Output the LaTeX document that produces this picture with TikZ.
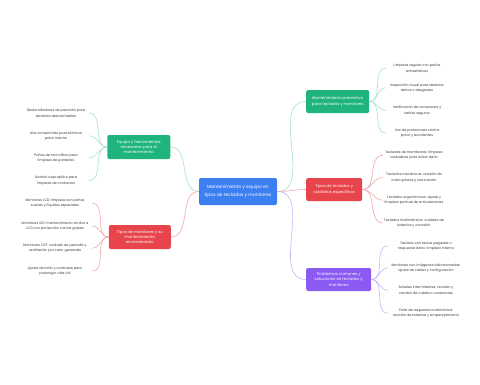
\documentclass[tikz,border=0pt]{standalone}
\usepackage{fontspec}
\setmainfont{Poppins}
\usetikzlibrary{positioning}
\definecolor{rootblue}{HTML}{3B7FF2}
\definecolor{mapgreen}{HTML}{1FB47E}
\definecolor{mapred}{HTML}{E8444B}
\definecolor{mappurple}{HTML}{8A5AF3}
\definecolor{linkgreen}{HTML}{A6E2CC}
\definecolor{linkred}{HTML}{F4A7AB}
\definecolor{linkpurple}{HTML}{C6B4F7}
\definecolor{leafink}{HTML}{3A3A3A}

\begin{document}
\begin{tikzpicture}[x=1pt, y=-1pt,
    topic/.style={rounded corners=2pt, text=white, align=center,
                  inner sep=0pt, minimum height=23pt,
                  font=\fontsize{3.9}{5.4}\selectfont},
    leaf/.style={text=leafink, align=center, inner sep=0pt,
                 font=\fontsize{3.4}{5.3}\selectfont},
    link/.style={line width=0.6pt}]
  \fill[white] (0,0) rectangle (480,384);
  \useasboundingbox (0,0) rectangle (480,384);
  % centre
  \node[topic, fill=rootblue, minimum width=78pt, minimum height=27pt,
        font=\fontsize{4.5}{7.5}\selectfont]
    (root) at (238,191.5) {Mantenimiento y equipo en\\tipos de teclados y monitores};
  % right topics
  \node[topic, fill=mapgreen, minimum width=63pt, anchor=west]
    (prev) at (306,101.5) {Mantenimiento preventivo\\para teclados y monitores};
  \node[topic, fill=mapred, minimum width=56pt, anchor=west]
    (kbd) at (306,189.5) {Tipos de teclados y\\cuidados específicos};
  \node[topic, fill=mappurple, minimum width=65pt, anchor=west]
    (prob) at (306,279.5) {Problemas comunes y\\soluciones en teclados y\\monitores};
  % left topics
  \node[topic, fill=mapgreen, minimum width=63pt, minimum height=24pt, anchor=east]
    (tools) at (170.5,147) {Equipo y herramientas\\necesarias para el\\mantenimiento};
  \node[topic, fill=mapred, minimum width=62pt, minimum height=24pt, anchor=east]
    (mon) at (171,237) {Tipos de monitores y su\\mantenimiento\\recomendado};

  % leaves, preventive
  \node[leaf, minimum width=62pt] (prev1) at (417,68.3) {Limpieza regular con paños\\antiestáticos};
  \node[leaf, minimum width=62pt] (prev2) at (417,87.8) {Inspección visual para detectar\\daños o desgastes};
  \node[leaf, minimum width=62pt] (prev3) at (417,110.5) {Verificación de conexiones y\\cables seguros};
  \node[leaf, minimum width=62pt] (prev4) at (417,133) {Uso de protectores contra\\polvo y accidentes};
  % leaves, keyboards
  \node[leaf, minimum width=62pt] (kbd1) at (414,155.3) {Teclados de membrana: limpieza\\cuidadosa para evitar daño};
  \node[leaf, minimum width=62pt] (kbd2) at (414,177.5) {Teclados mecánicos: revisión de\\interruptores y lubricación};
  \node[leaf, minimum width=62pt] (kbd3) at (414,200.2) {Teclados ergonómicos: ajuste y\\limpieza puntual de articulaciones};
  \node[leaf, minimum width=62pt] (kbd4) at (414,223) {Teclados inalámbricos: cuidado de\\baterías y conexión};
  % leaves, problems
  \node[leaf, minimum width=76pt] (prob1) at (426,246) {Teclado con teclas pegadas o\\respuesta lenta: limpieza interna};
  \node[leaf, minimum width=76pt] (prob2) at (426,267.8) {Monitores con imágenes distorsionadas:\\ajuste de cables y configuración};
  \node[leaf, minimum width=76pt] (prob3) at (426,290.3) {Señales intermitentes: revisión y\\cambio de cables o conectores};
  \node[leaf, minimum width=76pt] (prob4) at (426,313.2) {Falta de respuesta inalámbrica:\\revisión de baterías y emparejamiento};
  % leaves, tools
  \node[leaf, minimum width=66pt] (tools1) at (56,113.3) {Destornilladores de precisión para\\teclados desmontables};
  \node[leaf, minimum width=66pt] (tools2) at (56,135.8) {Aire comprimido para eliminar\\polvo interno};
  \node[leaf, minimum width=66pt] (tools3) at (56,157.8) {Paños de microfibra para\\limpieza de pantallas};
  \node[leaf, minimum width=66pt] (tools4) at (56,180.5) {Alcohol isopropílico para\\limpieza de contactos};
  % leaves, monitors
  \node[leaf, minimum width=74pt] (mon1) at (55,203.3) {Monitores LCD: limpieza con paños\\suaves y líquidos especiales};
  \node[leaf, minimum width=74pt] (mon2) at (55,226) {Monitores LED: mantenimiento similar a\\LCD con protección contra golpes};
  \node[leaf, minimum width=74pt] (mon3) at (55,248.2) {Monitores CRT: cuidado de pantalla y\\ventilación por calor generado};
  \node[leaf, minimum width=74pt] (mon4) at (55,271) {Ajuste de brillo y contraste para\\prolongar vida útil};

  % connectors
  \draw[link, linkgreen] (root.east) to[out=0, in=180] (prev.west);
  \draw[link, linkred] (root.east) to[out=0, in=180] (kbd.west);
  \draw[link, linkpurple] (root.east) to[out=0, in=180] (prob.west);
  \draw[link, linkgreen] (root.west) to[out=180, in=0] (tools.east);
  \draw[link, linkred] (root.west) to[out=180, in=0] (mon.east);
  \foreach \i in {1,...,4} {
    \draw[link, linkgreen] (prev.east) to[out=0, in=180] (prev\i.west);
    \draw[link, linkred] (kbd.east) to[out=0, in=180] (kbd\i.west);
    \draw[link, linkpurple] (prob.east) to[out=0, in=180] (prob\i.west);
    \draw[link, linkgreen] (tools.west) to[out=180, in=0] (tools\i.east);
    \draw[link, linkred] (mon.west) to[out=180, in=0] (mon\i.east);
  }
\end{tikzpicture}
\end{document}
